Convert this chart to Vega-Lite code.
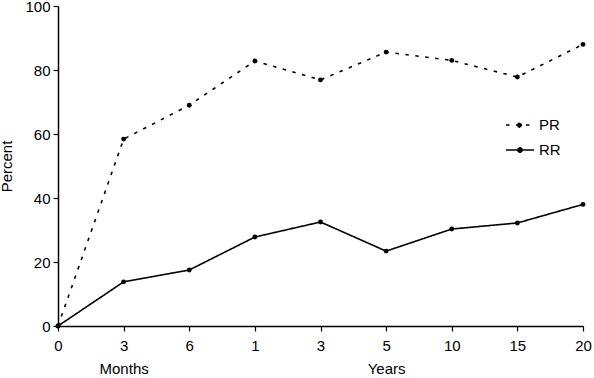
{
  "$schema": "https://vega.github.io/schema/vega-lite/v6.json",
  "autosize": "none",
  "width": 525,
  "height": 320,
  "padding": {"left": 58, "top": 6, "right": 11, "bottom": 52},
  "background": "white",
  "config": {
    "view": {"stroke": null},
    "font": "Liberation Sans",
    "axis": {"grid": false, "domainColor": "black", "tickColor": "black", "labelColor": "black", "titleColor": "black", "domainWidth": 1.5, "tickWidth": 1.2, "labelFontSize": 15, "titleFontSize": 15, "titleFontWeight": "normal", "labelFont": "Liberation Sans", "titleFont": "Liberation Sans"}
  },
  "data": {
    "values": [
      {"idx": 0, "series": "PR", "value": 0},
      {"idx": 1, "series": "PR", "value": 58.4},
      {"idx": 2, "series": "PR", "value": 69},
      {"idx": 3, "series": "PR", "value": 82.8},
      {"idx": 4, "series": "PR", "value": 76.9},
      {"idx": 5, "series": "PR", "value": 85.6},
      {"idx": 6, "series": "PR", "value": 83},
      {"idx": 7, "series": "PR", "value": 77.8},
      {"idx": 8, "series": "PR", "value": 88},
      {"idx": 0, "series": "RR", "value": 0},
      {"idx": 1, "series": "RR", "value": 13.8},
      {"idx": 2, "series": "RR", "value": 17.5},
      {"idx": 3, "series": "RR", "value": 27.8},
      {"idx": 4, "series": "RR", "value": 32.5},
      {"idx": 5, "series": "RR", "value": 23.4},
      {"idx": 6, "series": "RR", "value": 30.3},
      {"idx": 7, "series": "RR", "value": 32.2},
      {"idx": 8, "series": "RR", "value": 38}
    ]
  },
  "mark": {"type": "line", "color": "black", "strokeWidth": 1.6, "point": {"filled": true, "size": 24, "color": "black"}},
  "encoding": {
    "x": {
      "field": "idx", "type": "quantitative",
      "scale": {"domain": [0, 8], "nice": false, "zero": false},
      "axis": {
        "title": null,
        "values": [0, 1, 2, 3, 4, 5, 6, 7, 8],
        "tickSize": 5,
        "labelPadding": 7,
        "labelLineHeight": 23,
        "labelFlush": false,
        "labelOverlap": false,
        "labelExpr": "datum.value == 1 ? ['3', 'Months'] : datum.value == 5 ? ['5', 'Years'] : ['0','3','6','1','3','5','10','15','20'][datum.value]"
      }
    },
    "y": {
      "field": "value", "type": "quantitative",
      "scale": {"domain": [0, 100], "nice": false},
      "axis": {"title": "Percent", "values": [0, 20, 40, 60, 80, 100], "tickSize": 5, "labelPadding": 3, "titlePadding": 10}
    },
    "strokeDash": {
      "field": "series", "type": "nominal",
      "scale": {"domain": ["PR", "RR"], "range": [[3.5, 6.5], [1, 0]]},
      "legend": {
        "title": null,
        "orient": "none",
        "legendX": 447,
        "legendY": 104,
        "symbolType": "M-1,0H1M-0.15,0a0.15,0.15 0 1,0 0.3,0a0.15,0.15 0 1,0 -0.3,0",
        "symbolSize": 784,
        "symbolStrokeWidth": 1.6,
        "symbolStrokeColor": "black",
        "symbolFillColor": "black",
        "labelFontSize": 15,
        "labelColor": "black",
        "labelFont": "Liberation Sans",
        "rowPadding": 2,
        "labelOffset": 4,
        "encode": {
          "symbols": {
            "update": {
              "stroke": {"value": "black"},
              "strokeWidth": {"value": 1.6},
              "fill": {"value": "black"}
            }
          }
        }
      }
    }
  }
}
